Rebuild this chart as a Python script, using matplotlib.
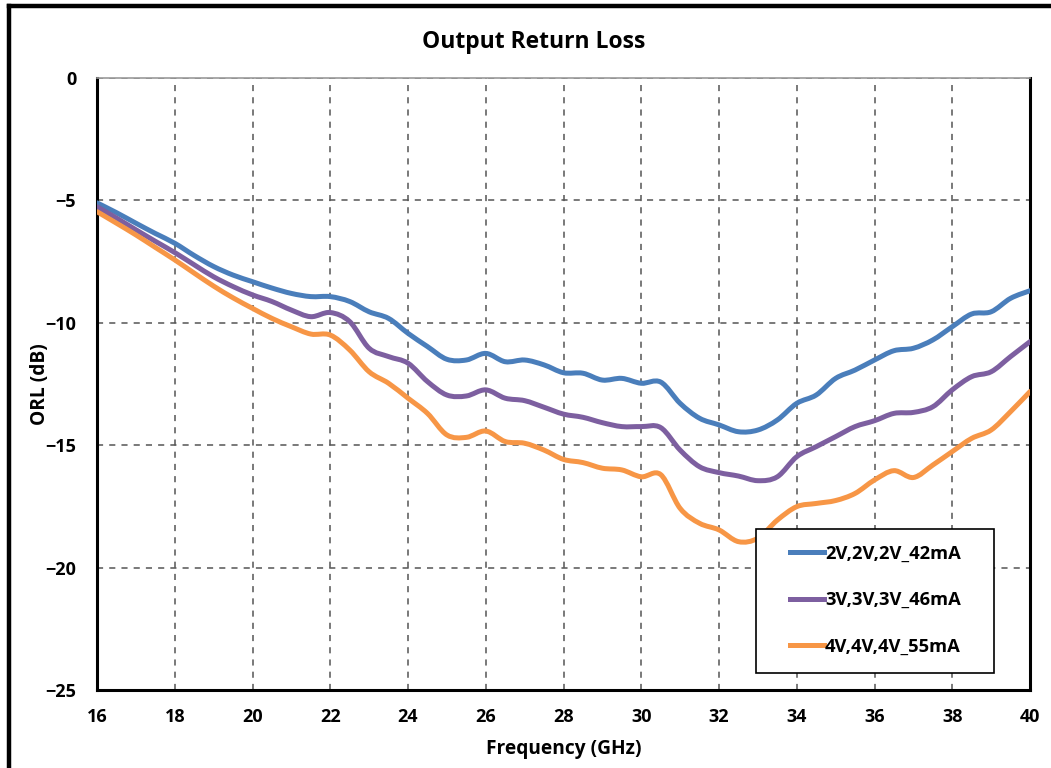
import matplotlib
matplotlib.use("Agg")
import numpy as np
import matplotlib.pyplot as plt
from matplotlib.lines import Line2D
from matplotlib.path import Path
from matplotlib.patches import PathPatch, Rectangle

# frequency points (GHz)
freq = [16, 16.5, 17, 17.5, 18, 18.5, 19, 19.5, 20, 20.5, 21, 21.5, 22, 22.5,
        23, 23.5, 24, 24.5, 25, 25.5, 26, 26.5, 27, 27.5, 28, 28.5, 29, 29.5,
        30, 30.5, 31, 31.5, 32, 32.5, 33, 33.5, 34, 34.5, 35, 35.5, 36, 36.5,
        37, 37.5, 38, 38.5, 39, 39.5, 40]

orl_2v = [-5.1, -5.5, -5.93, -6.35, -6.75, -7.25, -7.7, -8.05, -8.32, -8.58, -8.8, -8.93, -8.93, -9.13,
          -9.55, -9.82, -10.43, -10.97, -11.49, -11.52, -11.25, -11.59, -11.52, -11.72, -12.04, -12.06, -12.34, -12.27,
          -12.47, -12.42, -13.29, -13.9, -14.17, -14.45, -14.38, -13.97, -13.29, -12.95, -12.27, -11.93, -11.52, -11.14,
          -11.04, -10.7, -10.16, -9.64, -9.55, -9.0, -8.69]

orl_3v = [-5.26, -5.72, -6.2, -6.67, -7.13, -7.63, -8.12, -8.52, -8.86, -9.13, -9.48, -9.75, -9.58, -9.95,
          -11.04, -11.38, -11.65, -12.4, -12.95, -12.99, -12.74, -13.08, -13.18, -13.45, -13.73, -13.86, -14.08, -14.24,
          -14.24, -14.28, -15.2, -15.88, -16.12, -16.26, -16.45, -16.29, -15.47, -15.06, -14.65, -14.24, -14.0, -13.7,
          -13.66, -13.43, -12.74, -12.2, -12.0, -11.38, -10.77]

orl_4v = [-5.46, -5.93, -6.41, -6.92, -7.43, -7.97, -8.5, -8.98, -9.41, -9.82, -10.16, -10.46, -10.5, -11.11,
          -12.0, -12.47, -13.08, -13.7, -14.58, -14.68, -14.42, -14.85, -14.92, -15.2, -15.58, -15.71, -15.94, -16.01,
          -16.29, -16.2, -17.58, -18.19, -18.46, -18.94, -18.8, -18.06, -17.51, -17.38, -17.26, -16.97, -16.42, -16.04,
          -16.32, -15.81, -15.26, -14.72, -14.38, -13.63, -12.81]

labels = ["2V,2V,2V_42mA", "3V,3V,3V_46mA", "4V,4V,4V_55mA"]
colors = ["#4a7ebb", "#7d5fa0", "#f79646"]

x_ticks = list(range(16, 41, 2))
y_ticks = [0, -5, -10, -15, -20, -25]

plt.rcParams['font.family'] = ['Open Sans', 'DejaVu Sans']
plt.rcParams['font.weight'] = 'bold'

LW = 3.6


def smooth_path(x, y):
    # Excel-style smoothed line: Catmull-Rom segments as cubic Bezier curves
    pts = np.column_stack([x, y]).astype(float)
    verts = [pts[0]]
    codes = [Path.MOVETO]
    n = len(pts)
    for i in range(n - 1):
        p0 = pts[i - 1] if i > 0 else pts[i]
        p1, p2 = pts[i], pts[i + 1]
        p3 = pts[i + 2] if i + 2 < n else pts[i + 1]
        c1 = p1 + (p2 - p0) / 6.0
        c2 = p2 - (p3 - p1) / 6.0
        verts += [c1, c2, p2]
        codes += [Path.CURVE4] * 3
    return Path(verts, codes)


fig = plt.figure(figsize=(10.51, 7.68), dpi=100)
ax = fig.add_axes([97 / 1051, 78 / 768, 933 / 1051, 612 / 768])

handles = []
for series, lab, col in zip([orl_2v, orl_3v, orl_4v], labels, colors):
    patch = PathPatch(smooth_path(freq, series), facecolor='none', edgecolor=col,
                      lw=LW, capstyle='round', joinstyle='round', zorder=3)
    ax.add_patch(patch)
    handles.append(Line2D([], [], color=col, lw=LW, label=lab))

ax.set_xlim(16, 40)
ax.set_ylim(-25, 0)
ax.set_xticks(x_ticks)
ax.set_yticks(y_ticks)
ax.tick_params(axis='x', length=0, labelsize=13, pad=13)
ax.tick_params(axis='y', length=0, labelsize=13, pad=15)
for t in ax.get_xticklabels() + ax.get_yticklabels():
    t.set_fontweight('bold')

ax.grid(True, color='#555555', linestyle=(0, (4, 4)), linewidth=1.1)
for side in ['left', 'bottom', 'right']:
    ax.spines[side].set_color('black')
    ax.spines[side].set_linewidth(2.2)
ax.spines['top'].set_color('#999999')
ax.spines['top'].set_linewidth(1.2)

ax.set_xlabel('Frequency (GHz)', fontsize=13.8, fontweight='bold', labelpad=9)
ax.set_ylabel('ORL (dB)', fontsize=13.8, fontweight='bold')
ax.yaxis.set_label_coords(-0.0505, 0.5)
fig.text(0.508, 0.945, 'Output Return Loss', ha='center', va='center',
         fontsize=16.5, fontweight='bold')

# legend box drawn separately so its size matches the reference
ax.add_patch(Rectangle((0.7063, 0.0278), 0.2551, 0.2352, transform=ax.transAxes,
                       facecolor='white', edgecolor='black', lw=1.2, zorder=4))
leg = ax.legend(handles=handles, loc='center left', bbox_to_anchor=(0.743, 0.147),
                frameon=False, fontsize=13.2, handlelength=1.85,
                handletextpad=0.05, labelspacing=1.55, borderpad=0,
                borderaxespad=0)
leg.set_zorder(5)
for t in leg.get_texts():
    t.set_fontweight('bold')

# outer chart border (right and bottom edges are cut off in the reference)
fig.add_artist(Line2D([9 / 1051, 9 / 1051], [0, 1 - 6 / 768],
                      transform=fig.transFigure, color='black', lw=3.2))
fig.add_artist(Line2D([9 / 1051, 1], [1 - 6 / 768, 1 - 6 / 768],
                      transform=fig.transFigure, color='black', lw=3.2))

fig.savefig('out.png', dpi=100)
